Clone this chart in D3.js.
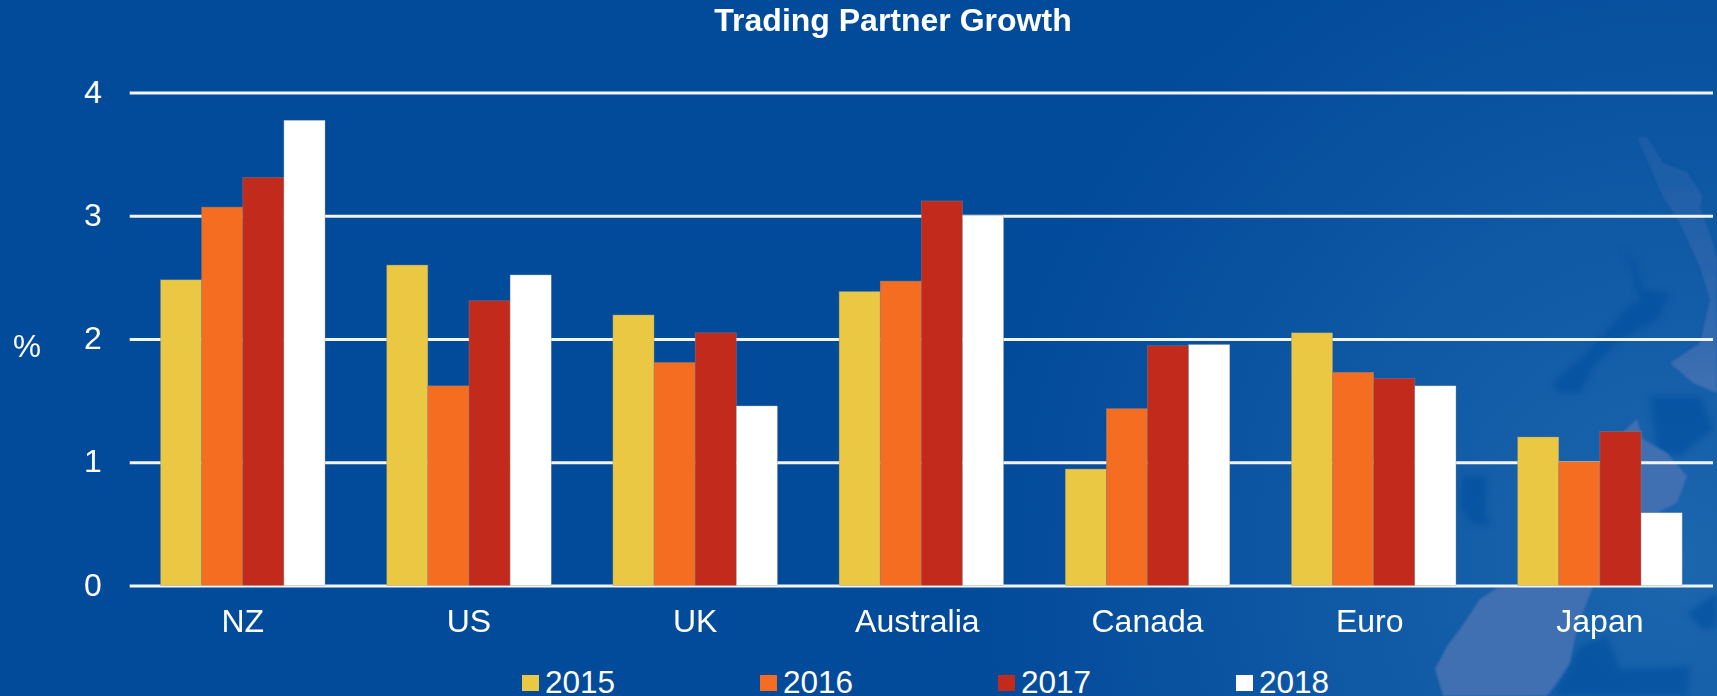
<!DOCTYPE html>
<html>
<head>
<meta charset="utf-8">
<script src="https://cdn.jsdelivr.net/npm/d3@7"></script>
<style>
  html, body { margin: 0; padding: 0; background: #024a9a; overflow: hidden; }
  text { font-family: "Liberation Sans", Arial, sans-serif; fill: #fff; }
</style>
</head>
<body>
<div id="chart"></div>
<script>
// chart values
const partners = ["NZ", "US", "UK", "Australia", "Canada", "Euro", "Japan"];
const years = ["2015", "2016", "2017", "2018"];
const y2015 = [2.48, 2.60, 2.195, 2.385, 0.945, 2.05, 1.205];
const y2016 = [3.07, 1.62, 1.81, 2.47, 1.435, 1.73, 1.005];
const y2017 = [3.31, 2.31, 2.05, 3.12, 1.945, 1.68, 1.25];
const y2018 = [3.775, 2.52, 1.457, 3.00, 1.955, 1.62, 0.59];
const yTicks = [0, 1, 2, 3, 4];
const colours = ["#eac843", "#f46d20", "#c22b1c", "#ffffff"];

const series = [y2015, y2016, y2017, y2018];

// set the dimensions and margins of the graph
const W = 1717, H = 696;
const margin = {top: 92.5, right: 4, bottom: 110.5, left: 129.7};
const width = W - margin.left - margin.right,
    height = H - margin.top - margin.bottom;

const root = d3.select("#chart").append("svg")
    .attr("width", W)
    .attr("height", H)
    .style("display", "block");

// background: faint glow and the map behind the chart
const defs = root.append("defs");
const grad = defs.append("radialGradient").attr("id", "bg")
    .attr("gradientUnits", "userSpaceOnUse")
    .attr("cx", 1680).attr("cy", 560).attr("r", 720);
grad.append("stop").attr("offset", "0").attr("stop-color", "#1c66ae");
grad.append("stop").attr("offset", "1").attr("stop-color", "#024a9a");
root.append("rect").attr("width", W).attr("height", H).attr("fill", "url(#bg)");

const stripGrad = defs.append("linearGradient").attr("id", "strip")
    .attr("gradientUnits", "userSpaceOnUse")
    .attr("x1", 0).attr("y1", 137).attr("x2", 0).attr("y2", 390);
stripGrad.append("stop").attr("offset", "0").attr("stop-color", "#1a5ca6");
stripGrad.append("stop").attr("offset", "0.6").attr("stop-color", "#2a66ad");
stripGrad.append("stop").attr("offset", "1").attr("stop-color", "#3f70b2");

defs.append("filter").attr("id", "soft")
    .append("feGaussianBlur").attr("stdDeviation", 3);
defs.append("filter").attr("id", "softer")
    .append("feGaussianBlur").attr("stdDeviation", 1);

// darker sea patches first, then the lighter land on top
const dark = [
  "M1623,247 L1637,267 L1643,290 L1670,293 L1657,320 L1620,340 L1593,367 L1580,393 L1557,393 L1553,383 L1587,353 L1610,327 L1627,307 L1640,300 L1633,273 Z",
  "M1463,476 L1487,476 L1485,510 L1490,525 L1473,525 L1460,505 Z",
  "M1650,396 L1700,396 L1713,429 L1680,456 L1657,453 Z",
  "M1687,613 L1717,593 L1717,626 L1703,630 Z",
  "M1580,646 L1607,636 L1620,669 L1690,666 L1687,696 L1553,696 Z"
];
root.append("g").attr("filter", "url(#soft)")
    .selectAll("path").data(dark).join("path")
    .attr("d", d => d)
    .attr("fill", "#04509f")
    .attr("opacity", 0.65);

const land = [
  "M1435,669 L1447,646 L1460,629 L1480,599 L1497,588 L1530,584 L1593,586 L1577,629 L1570,663 L1557,683 L1547,696 L1443,696 Z",
  "M1622,433 L1637,419 L1643,439 L1667,453 L1687,476 L1677,503 L1657,513 L1620,513 Z"
];
root.append("g").attr("filter", "url(#softer)")
    .selectAll("path").data(land).join("path")
    .attr("d", d => d)
    .attr("fill", "#3f70b2");
root.append("path")
    .attr("filter", "url(#softer)")
    .attr("d", "M1637,137 L1647,137 L1663,163 L1687,172 L1703,197 L1700,207 L1713,243 L1717,260 L1717,393 L1693,383 L1670,363 L1700,343 L1710,300 L1700,267 L1680,223 L1663,197 Z")
    .attr("fill", "url(#strip)");

const svg = root.append("g")
    .attr("transform", `translate(${margin.left},${margin.top})`);

// scales
const x = d3.scaleBand()
    .domain(partners)
    .range([0, width])
    .paddingInner(0.2727)
    .paddingOuter(0.13635);
const xSub = d3.scaleBand()
    .domain(years)
    .range([0, x.bandwidth()]);
const y = d3.scaleLinear()
    .domain([0, 4])
    .range([height, 0]);

// Y axis with the white grid lines
const yAxis = svg.append("g")
    .call(d3.axisLeft(y).tickValues(yTicks).tickFormat(d3.format("d")).tickSize(-width).tickPadding(28));
yAxis.select(".domain").remove();
yAxis.selectAll("line")
    .attr("stroke", "#f2f4f8")
    .attr("stroke-width", 2.8);
yAxis.selectAll("text")
    .style("font-size", "32px")
    .attr("dy", "0.3em");

// the bars
svg.append("g")
    .selectAll("g")
    .data(years)
    .join("g")
    .attr("fill", (d, i) => colours[i])
    .selectAll("rect")
    .data((yr, i) => partners.map((p, j) => ({partner: p, year: yr, value: series[i][j]})))
    .join("rect")
    .attr("x", d => x(d.partner) + xSub(d.year))
    .attr("y", d => y(d.value))
    .attr("width", xSub.bandwidth())
    .attr("height", d => height - y(d.value))
    .attr("stroke", "#8c8c8c")
    .attr("stroke-opacity", 0.6)
    .attr("stroke-width", 0.6);

// X axis labels, Australia and Euro sit a little left of their group
const xAxis = svg.append("g")
    .attr("transform", `translate(0,${height})`)
    .call(d3.axisBottom(x).tickSize(0).tickPadding(24));
xAxis.select(".domain").remove();
xAxis.selectAll("text")
    .style("font-size", "32px")
    .attr("dx", d => (d === "Australia" || d === "Euro") ? -4 : 0);

// title
root.append("text")
    .attr("text-anchor", "middle")
    .attr("x", 893)
    .attr("y", 31)
    .style("font-size", "32px")
    .style("font-weight", "bold")
    .text("Trading Partner Growth");

// % label
root.append("text")
    .attr("x", 13)
    .attr("y", 357)
    .style("font-size", "31.5px")
    .text("%");

// legend
const legendX = d3.scalePoint().domain(years).range([522, 1236]);
const legend = root.append("g").selectAll("g")
    .data(years)
    .join("g")
    .attr("transform", d => `translate(${legendX(d)},0)`);
legend.append("rect")
    .attr("y", 675)
    .attr("width", 17)
    .attr("height", 16)
    .attr("fill", (d, i) => colours[i]);
legend.append("text")
    .attr("x", 23)
    .attr("y", 693)
    .style("font-size", "31.5px")
    .text(d => d);
</script>
</body>
</html>
